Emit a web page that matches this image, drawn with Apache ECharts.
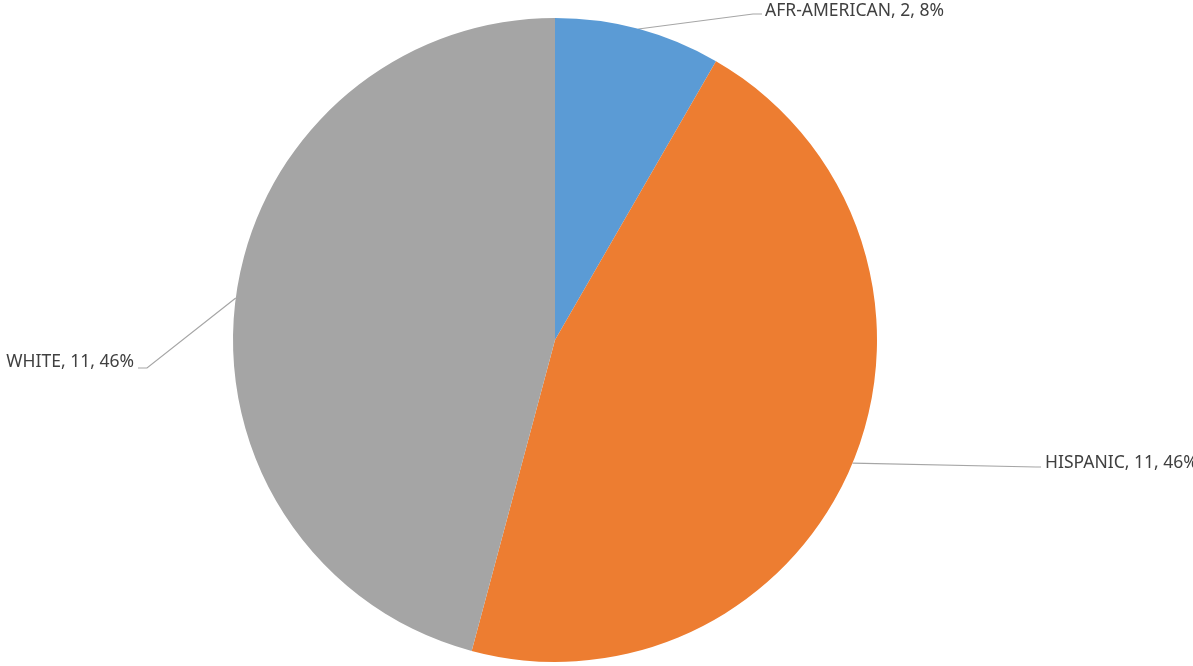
<!DOCTYPE html>
<html>
<head>
<meta charset="utf-8">
<script src="https://cdn.jsdelivr.net/npm/echarts@6/dist/echarts.min.js"></script>
<style>html,body{margin:0;padding:0;background:#fff}#c{width:1193px;height:666px}</style>
</head>
<body>
<div id="c"></div>
<script>
const categories = ['AFR-AMERICAN', 'HISPANIC', 'WHITE'];
const values = [2, 11, 11];
const colors = ['#5B9BD5', '#ED7D31', '#A5A5A5'];

const chart = echarts.init(document.getElementById('c'), null, {renderer: 'canvas'});
// label placements (layout hints)
const labelPlaces = [
  {x: 765, y: 11, align: 'left', bend: [753, 14], end: [762, 14]},
  {x: 1045, y: 463, align: 'left', bend: [1036, 467], end: [1041, 467]},
  {x: 134, y: 362, align: 'right', bend: [147, 368], end: [138, 368]}
];
chart.setOption({
  animation: false,
  series: [{
    type: 'pie',
    center: [555, 340],
    radius: 322,
    startAngle: 90,
    clockwise: true,
    data: categories.map((c, i) => ({name: c, value: values[i], itemStyle: {color: colors[i]}})),
    label: {
      show: true,
      position: 'outside',
      formatter: p => p.name + ', ' + p.value + ', ' + Math.round(p.percent) + '%',
      color: '#404040',
      fontFamily: 'Noto Sans',
      fontSize: 17.5
    },
    labelLine: {show: true, length: 20, length2: 10, lineStyle: {color: '#A6A6A6', width: 1.2}},
    labelLayout: function (params) {
      const lp = labelPlaces[params.dataIndex];
      const start = params.labelLinePoints ? params.labelLinePoints[0] : [0, 0];
      return {
        x: lp.x, y: lp.y, align: lp.align, verticalAlign: 'middle',
        labelLinePoints: [start, lp.bend, lp.end]
      };
    }
  }]
});
</script>
</body>
</html>
